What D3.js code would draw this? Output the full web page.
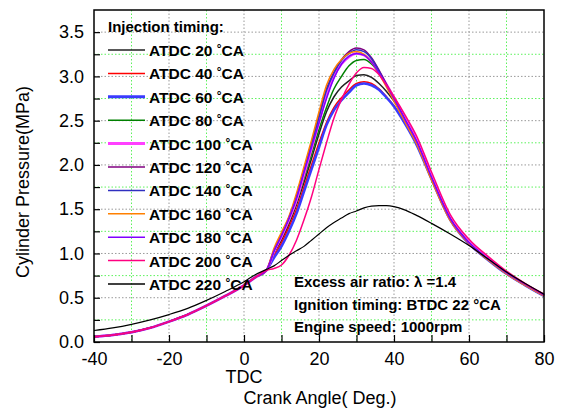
<!DOCTYPE html>
<html>
<head>
<meta charset="utf-8">
<script src="https://cdn.jsdelivr.net/npm/d3@7"></script>
<style>
body { margin: 0; background: #fff; }
text { font-family: Arial, "Liberation Sans", sans-serif; }
</style>
</head>
<body>
<svg id="chart" width="562" height="412"></svg>
<script>
// crank angle sample points (deg)
var angles = [-40,-35,-30,-25,-20,-15,-10,-5,0,3,6,8,10,12,14,16,18,20,22,24,26,28,30,32,34,36,38,40,43,46,50,55,60,65,70,75,80];

// injection timing labels (ATDC, deg CA)
var timings = [20, 40, 60, 80, 100, 120, 140, 160, 180, 200, 220];

// cylinder pressure (MPa) for each injection timing
var p20  = [0.06,0.08,0.11,0.16,0.23,0.31,0.41,0.52,0.64,0.73,0.81, 1.00,1.15,1.33,1.55,1.80,2.07,2.35,2.60,2.77,2.88,2.95,3.01,3.02,2.99,2.92,2.83,2.72,2.51,2.28,1.86,1.39,1.12,0.94,0.78,0.65,0.53];
var p40  = [0.06,0.08,0.11,0.16,0.23,0.31,0.41,0.52,0.64,0.73,0.81, 0.97,1.12,1.30,1.50,1.75,2.00,2.25,2.48,2.65,2.76,2.85,2.92,2.94,2.92,2.86,2.77,2.67,2.47,2.24,1.84,1.38,1.11,0.93,0.77,0.64,0.52];
var p60  = [0.06,0.08,0.11,0.16,0.23,0.31,0.41,0.52,0.64,0.73,0.81, 0.95,1.08,1.25,1.45,1.70,1.95,2.20,2.45,2.62,2.73,2.82,2.90,2.92,2.90,2.85,2.76,2.66,2.46,2.23,1.84,1.38,1.11,0.93,0.77,0.64,0.52];
var p80  = [0.06,0.08,0.11,0.16,0.23,0.31,0.41,0.52,0.64,0.73,0.81, 1.02,1.18,1.36,1.58,1.85,2.12,2.40,2.65,2.86,3.00,3.12,3.18,3.19,3.14,3.04,2.91,2.77,2.53,2.29,1.87,1.40,1.13,0.95,0.78,0.65,0.53];
var p100 = [0.06,0.08,0.11,0.16,0.23,0.31,0.41,0.52,0.64,0.73,0.81, 1.02,1.19,1.38,1.60,1.89,2.18,2.48,2.78,3.00,3.14,3.22,3.26,3.24,3.17,3.05,2.91,2.76,2.52,2.29,1.87,1.40,1.13,0.95,0.78,0.65,0.53];
var p120 = [0.06,0.08,0.11,0.16,0.23,0.31,0.41,0.52,0.64,0.73,0.81, 1.04,1.22,1.41,1.65,1.95,2.25,2.56,2.86,3.05,3.19,3.28,3.32,3.30,3.21,3.07,2.91,2.75,2.50,2.26,1.85,1.39,1.12,0.94,0.78,0.65,0.53];
var p140 = [0.06,0.08,0.11,0.16,0.23,0.31,0.41,0.52,0.64,0.73,0.81, 1.03,1.21,1.40,1.63,1.93,2.23,2.54,2.84,3.04,3.18,3.26,3.30,3.28,3.20,3.06,2.90,2.74,2.50,2.26,1.85,1.39,1.12,0.94,0.78,0.65,0.53];
var p160 = [0.06,0.08,0.11,0.16,0.23,0.31,0.41,0.52,0.64,0.73,0.81, 1.06,1.24,1.42,1.68,1.98,2.28,2.60,2.90,3.08,3.19,3.26,3.28,3.25,3.16,3.03,2.88,2.72,2.48,2.24,1.83,1.37,1.11,0.93,0.77,0.64,0.52];
var p180 = [0.06,0.08,0.11,0.16,0.23,0.31,0.41,0.52,0.64,0.73,0.81, 1.03,1.20,1.40,1.63,1.92,2.20,2.48,2.75,2.98,3.14,3.23,3.26,3.24,3.16,3.04,2.90,2.75,2.51,2.27,1.86,1.39,1.12,0.94,0.78,0.65,0.53];
var p200 = [0.06,0.08,0.11,0.16,0.23,0.31,0.41,0.52,0.64,0.73,0.81, 0.83,0.87,0.98,1.15,1.38,1.64,1.95,2.25,2.53,2.74,2.91,3.04,3.10,3.09,3.02,2.90,2.77,2.56,2.33,1.92,1.44,1.16,0.97,0.80,0.66,0.54];
var p220 = [0.13,0.16,0.20,0.25,0.31,0.38,0.47,0.57,0.68,0.76,0.82, 0.86,0.92,0.98,1.03,1.08,1.15,1.22,1.29,1.35,1.40,1.45,1.48,1.515,1.535,1.54,1.54,1.53,1.49,1.43,1.34,1.22,1.09,0.94,0.79,0.66,0.54];

var pressures = [p20, p40, p60, p80, p100, p120, p140, p160, p180, p200, p220];

// axis ticks
var xMajor = [-40, -20, 0, 20, 40, 60, 80];
var xMinor = [-30, -10, 10, 30, 50, 70];
var yMajor = [0, 0.5, 1.0, 1.5, 2.0, 2.5, 3.0, 3.5];
var yMinor = [0.25, 0.75, 1.25, 1.75, 2.25, 2.75, 3.25];

var notes = ["Excess air ratio: \u03bb =1.4", "Ignition timing: BTDC 22 \u00b0CA", "Engine speed: 1000rpm"];

// styles
var colors = ["#222222", "#ff0000", "#3a3aff", "#008000", "#ff40ff", "#800080", "#3030c0", "#ff8000", "#8000ff", "#ff0080", "#000000"];
var widths = [1.5, 1.5, 2.5, 1.5, 2.5, 1.5, 1.5, 1.5, 1.5, 1.5, 1.2];

var chart = {};
chart.left = 94;
chart.right = 544;
chart.top = 10;
chart.bottom = 342;

var svg = d3.select("#chart");

var x = d3.scaleLinear().domain([-40, 80]).range([chart.left, chart.right]);
var y = d3.scaleLinear().domain([0, 3.75]).range([chart.bottom, chart.top]);

// grid
var grid = svg.append("g");
grid.selectAll("line.gx").data(xMajor.slice(1, -1)).enter().append("line")
    .attr("x1", x).attr("x2", x).attr("y1", chart.top).attr("y2", chart.bottom)
    .attr("stroke", "#999").attr("stroke-dasharray", "1.5,2");
grid.selectAll("line.gxm").data(xMinor).enter().append("line")
    .attr("x1", x).attr("x2", x).attr("y1", chart.top).attr("y2", chart.bottom)
    .attr("stroke", "#5cf25c").attr("stroke-dasharray", "1.5,2");
grid.selectAll("line.gy").data(yMajor.slice(1)).enter().append("line")
    .attr("y1", y).attr("y2", y).attr("x1", chart.left).attr("x2", chart.right)
    .attr("stroke", "#999").attr("stroke-dasharray", "1.5,2");
grid.selectAll("line.gym").data(yMinor).enter().append("line")
    .attr("y1", y).attr("y2", y).attr("x1", chart.left).attr("x2", chart.right)
    .attr("stroke", "#5cf25c").attr("stroke-dasharray", "1.5,2");

// curves
var line = d3.line()
    .x(function(d) { return x(d[0]); })
    .y(function(d) { return y(d[1]); })
    .curve(d3.curveMonotoneX);

svg.append("g").selectAll("path").data(pressures).enter().append("path")
    .attr("d", function(vals) { return line(angles.map(function(a, i) { return [a, vals[i]]; })); })
    .attr("fill", "none")
    .attr("stroke", function(d, i) { return colors[i]; })
    .attr("stroke-width", function(d, i) { return widths[i]; });

// axes (ticks inside)
var xAxis = d3.axisBottom(x).tickValues(xMajor.concat(xMinor)).tickSize(-7).tickPadding(10)
    .tickFormat(function(d) { return xMajor.indexOf(d) >= 0 ? d : ""; });
var yAxis = d3.axisLeft(y).tickValues(yMajor.concat(yMinor)).tickSize(-6).tickPadding(10)
    .tickFormat(function(d) { return yMajor.indexOf(d) >= 0 ? d3.format(".1f")(d) : ""; });

var gx = svg.append("g").attr("transform", "translate(0," + chart.bottom + ")").call(xAxis);
var gy = svg.append("g").attr("transform", "translate(" + chart.left + ",0)").call(yAxis);
[gx, gy].forEach(function(g) {
    g.select(".domain").remove();
    g.selectAll(".tick line").attr("stroke", "#000").attr("stroke-width", 1.2);
    g.selectAll(".tick text").attr("fill", "#000").style("font-size", "18px");
});

svg.append("rect")
    .attr("x", chart.left).attr("y", chart.top)
    .attr("width", chart.right - chart.left).attr("height", chart.bottom - chart.top)
    .attr("fill", "none").attr("stroke", "#000").attr("stroke-width", 1.5);

// axis titles
svg.append("text").attr("x", x(0)).attr("y", 383).attr("text-anchor", "middle")
    .style("font-size", "18px").text("TDC");
svg.append("text").attr("x", 320).attr("y", 404).attr("text-anchor", "middle")
    .style("font-size", "18px").text("Crank Angle( Deg.)");
svg.append("text").attr("transform", "translate(29,182) rotate(-90)").attr("text-anchor", "middle")
    .style("font-size", "18px").text("Cylinder Pressure(MPa)");

// legend
var legend = svg.append("g");
legend.append("text").attr("x", 108).attr("y", 32)
    .style("font-size", "15px").style("font-weight", "bold").text("Injection timing:");

var rows = legend.selectAll("g.row").data(timings).enter().append("g")
    .attr("transform", function(d, i) { return "translate(0," + (50 + i * 23.4) + ")"; });
rows.append("line").attr("x1", 108).attr("x2", 145).attr("y1", 0).attr("y2", 0)
    .attr("stroke", function(d, i) { return colors[i]; })
    .attr("stroke-width", function(d, i) { return widths[i] > 2 ? 3 : 1.5; });
var lt = rows.append("text").attr("x", 149).attr("y", 6)
    .style("font-size", "15.5px").style("font-weight", "bold");
lt.append("tspan").text(function(d) { return "ATDC " + d + " "; });
lt.append("tspan").attr("dy", -3).style("font-size", "12px").text("\u00b0");
lt.append("tspan").attr("dy", 3).text("CA");

// condition notes
svg.append("g").selectAll("text").data(notes).enter().append("text")
    .attr("x", 294).attr("y", function(d, i) { return 287 + i * 22.5; })
    .style("font-size", "15px").style("font-weight", "bold")
    .text(function(d) { return d; });
</script>
</body>
</html>
